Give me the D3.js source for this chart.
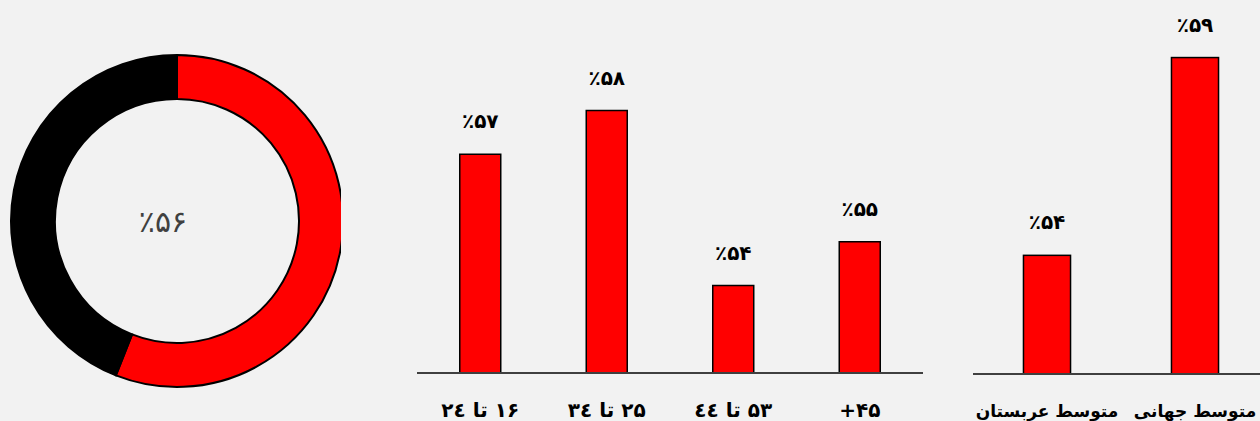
<!DOCTYPE html>
<html lang="fa">
<head>
<meta charset="utf-8">
<script src="https://cdn.jsdelivr.net/npm/d3@7"></script>
<style>
  html, body { margin: 0; padding: 0; background: #f2f2f2; }
  svg { display: block; }
  text { font-family: "DejaVu Sans", "Noto Sans", sans-serif; }
</style>
</head>
<body>
<svg id="chart" width="1260" height="421"></svg>
<script>
// Overall share (donut)
const donutValues = [56, 44];

// Age groups
const ageCategories = ["۱۶ تا ۲٤", "۲۵ تا ۳٤", "۵۳ تا ٤٤", "۴۵+"];
const ageValues = [57, 58, 54, 55];

// Averages
const avgCategories = ["متوسط عربستان", "متوسط جهانی"];
const avgValues = [54, 59];

const persianDigits = "۰۱۲۳۴۵۶۷۸۹";
const toFa = n => String(n).replace(/\d/g, d => persianDigits[+d]);
const pct = v => "٪" + toFa(v);

const svg = d3.select("#chart");
svg.append("rect").attr("width", 1260).attr("height", 421).attr("fill", "#f2f2f2");

// ---- Donut ----
const cx = 177, cy = 221, rOuter = 166, rInner = 122;
svg.append("clipPath").attr("id", "donutClip")
  .append("rect").attr("x", 0).attr("y", 0).attr("width", 341).attr("height", 421);

const donut = svg.append("g")
  .attr("clip-path", "url(#donutClip)")
  .append("g")
  .attr("transform", `translate(${cx},${cy})`);

const pie = d3.pie().sort(null).value(d => d);
const arc = d3.arc().innerRadius(rInner).outerRadius(rOuter);
donut.selectAll("path")
  .data(pie(donutValues))
  .join("path")
  .attr("d", arc)
  .attr("fill", (d, i) => i === 0 ? "#ff0000" : "#000000")
  .attr("stroke", "#000")
  .attr("stroke-width", 2);

svg.append("text")
  .attr("x", cx - 14)
  .attr("y", cy + 11)
  .attr("text-anchor", "middle")
  .attr("font-size", 30)
  .attr("fill", "#404040")
  .text(pct(donutValues[0]));

// ---- Bar chart helper ----
function barChart(cats, vals, x0, x1, baseY, topY, domain, pInner, catSize) {
  const x = d3.scaleBand().domain(cats).range([x0, x1])
    .paddingInner(pInner).paddingOuter(pInner / 2);
  const y = d3.scaleLinear().domain(domain).range([baseY, topY]);
  const g = svg.append("g");
  const data = cats.map((c, i) => ({ c, v: vals[i] }));

  g.selectAll("rect.bar")
    .data(data)
    .join("rect")
    .attr("class", "bar")
    .attr("x", d => x(d.c))
    .attr("y", d => y(d.v))
    .attr("width", x.bandwidth())
    .attr("height", d => baseY - y(d.v))
    .attr("fill", "#ff0000")
    .attr("stroke", "#000")
    .attr("stroke-width", 1.5);

  g.selectAll("text.val")
    .data(data)
    .join("text")
    .attr("class", "val")
    .attr("x", d => x(d.c) + x.bandwidth() / 2)
    .attr("y", d => y(d.v) - 26)
    .attr("text-anchor", "middle")
    .attr("font-size", 20)
    .attr("font-weight", "bold")
    .attr("fill", "#000")
    .text(d => pct(d.v));

  g.append("line")
    .attr("x1", x0).attr("x2", x1)
    .attr("y1", baseY).attr("y2", baseY)
    .attr("stroke", "#404040")
    .attr("stroke-width", 2);

  g.selectAll("text.cat")
    .data(data)
    .join("text")
    .attr("class", "cat")
    .attr("x", d => x(d.c) + x.bandwidth() / 2)
    .attr("y", 417)
    .attr("text-anchor", "middle")
    .attr("direction", "rtl")
    .attr("font-size", catSize)
    .attr("font-weight", "bold")
    .attr("fill", "#000")
    .text(d => d.c);
}

barChart(ageCategories, ageValues, 417, 923, 373, 23, [52, 60], 0.676, 20);
barChart(avgCategories, avgValues, 973, 1269, 374, 18, [51, 60], 0.682, 17);
</script>
</body>
</html>
